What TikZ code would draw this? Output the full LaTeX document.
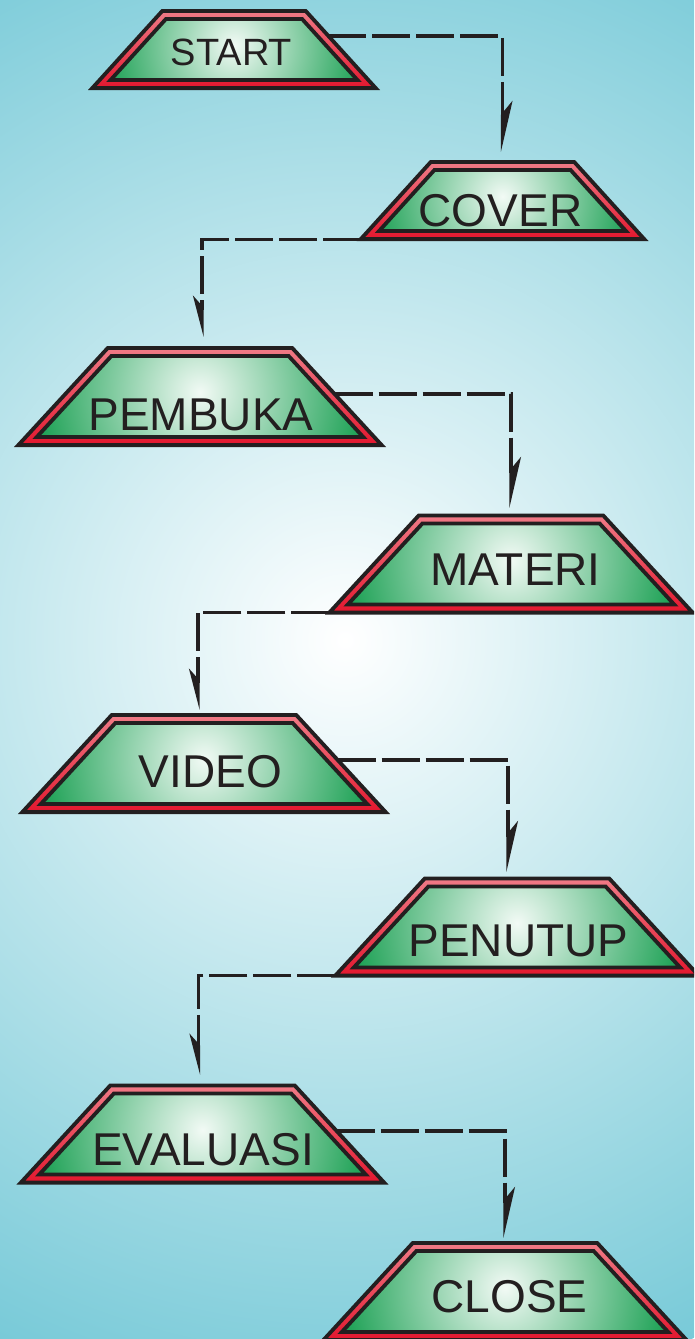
\documentclass[tikz,border=0pt]{standalone}
\usepackage{fontspec}
\setmainfont{Liberation Sans}
\usetikzlibrary{arrows.meta,calc}
\definecolor{ink}{HTML}{231F20}
\definecolor{bgout}{RGB}{120,202,216}
\definecolor{redtop}{HTML}{F07A86}
\definecolor{redbot}{HTML}{E3172E}
\definecolor{greenout}{HTML}{0C9A48}
\definecolor{greenin}{HTML}{F2FAF5}
\newcommand\tbox[3]{%
  \begin{scope}[shift={(#2,#3)}]
    \draw[redband] (-\tbAo,-\tbHo) -- (\tbAo,-\tbHo) -- (\tbBo,\tbHo) -- (-\tbBo,\tbHo) -- cycle;
    \draw[greenface] (-\tbAi,-\tbHi) -- (\tbAi,-\tbHi) -- (\tbBi,\tbHi) -- (-\tbBi,\tbHi) -- cycle;
    \coordinate (#1-n) at (0,-\tbHo);
    \coordinate (#1-tr) at (\tbAo,-\tbHo);
    \coordinate (#1-br) at (\tbBo,\tbHo);
    \coordinate (#1-bl) at (-\tbBo,\tbHo);
  \end{scope}}
\newcommand\tbBigDims{\def\tbHo{48.6}\def\tbAo{92.17}\def\tbBo{181.67}%
  \def\tbHi{40.5}\def\tbAi{88.61}\def\tbBi{163.2}\def\tbR{178}}
\newcommand\tbSmallDims{\def\tbHo{38.6}\def\tbAo{71.66}\def\tbBo{141.71}%
  \def\tbHi{30.5}\def\tbAi{68.07}\def\tbBi{123.42}\def\tbR{140}}
\begin{document}
\begin{tikzpicture}[x=1pt,y=-1pt,
  redband/.style={draw=ink, line width=3.8pt, top color=redtop, bottom color=redbot},
  greenface/.style={draw=ink, line width=3.8pt, fill=greenout,
    path picture={\shade[inner color=greenin, outer color=greenout]
      ([yshift=4pt]path picture bounding box.center) circle[radius=\tbR];}},
  lbl/.style={anchor=base, inner sep=0pt, text=ink, font=\fontsize{46}{46}\selectfont},
  conn/.style={draw=ink, line width=3.2pt, dash pattern=on 38pt off 6pt},
  tipE/.style={-{Stealth[harpoon, length=44pt, width=20pt, inset=12pt]}},
  tipW/.style={-{Stealth[harpoon, swap, length=35pt, width=18pt, inset=10pt]}},
]
\useasboundingbox (0,0) rectangle (694,1339);
\begin{scope}
  \clip (0,0) rectangle (694,1339);
  \shade[inner color=white, outer color=bgout] (345,640) circle[radius=780];

  % boxes
  \tbSmallDims
  \tbox{start}{234}{49.5}
  \tbox{cover}{502.5}{200.5}
  \tbBigDims
  \tbox{pembuka}{200}{396.5}
  \tbox{materi}{511}{564}
  \tbox{video}{204}{763.5}
  \tbox{penutup}{517}{927}
  \tbox{evaluasi}{202.5}{1134}
  \tbox{close}{505}{1291.5}

  % labels
  \node[lbl, font=\fontsize{38}{38}\selectfont] (start-t) at (231.5,65) {START};
  \node[lbl] (cover-t) at (500.5,226) {COVER};
  \node[lbl] (pembuka-t) at (201,430) {PEMBUKA};
  \node[lbl] (materi-t) at (515.5,585) {MATERI};
  \node[lbl] (video-t) at (210.5,787) {VIDEO};
  \node[lbl] (penutup-t) at (518.5,956) {PENUTUP};
  \node[lbl] (evaluasi-t) at (203,1165) {EVALUASI};
  \node[lbl] (close-t) at (509.5,1312) {CLOSE};

  % connectors
  \draw[conn, tipE, shorten >=10pt]
    ($(start-tr)!0.325!(start-br)$) -| (cover-n);
  \draw[conn, tipW, shorten >=11pt]
    (cover-bl) -| ([xshift=2pt]pembuka-n);
  \draw[conn, tipE, shorten >=7.5pt]
    ($(pembuka-tr)!0.474!(pembuka-br)$) -| (materi-n);
  \draw[conn, tipW, shorten >=5pt]
    (materi-bl) -| ([xshift=-6pt]video-n);
  \draw[conn, tipE, shorten >=6.5pt]
    ($(video-tr)!0.464!(video-br)$) -| ([xshift=-9pt]penutup-n);
  \draw[conn, tipW, shorten >=10.5pt]
    (penutup-bl) -| ([xshift=-4pt]evaluasi-n);
  \draw[conn, tipE, shorten >=5pt]
    ($(evaluasi-tr)!0.469!(evaluasi-br)$) -| (close-n);
\end{scope}
\end{tikzpicture}
\end{document}
